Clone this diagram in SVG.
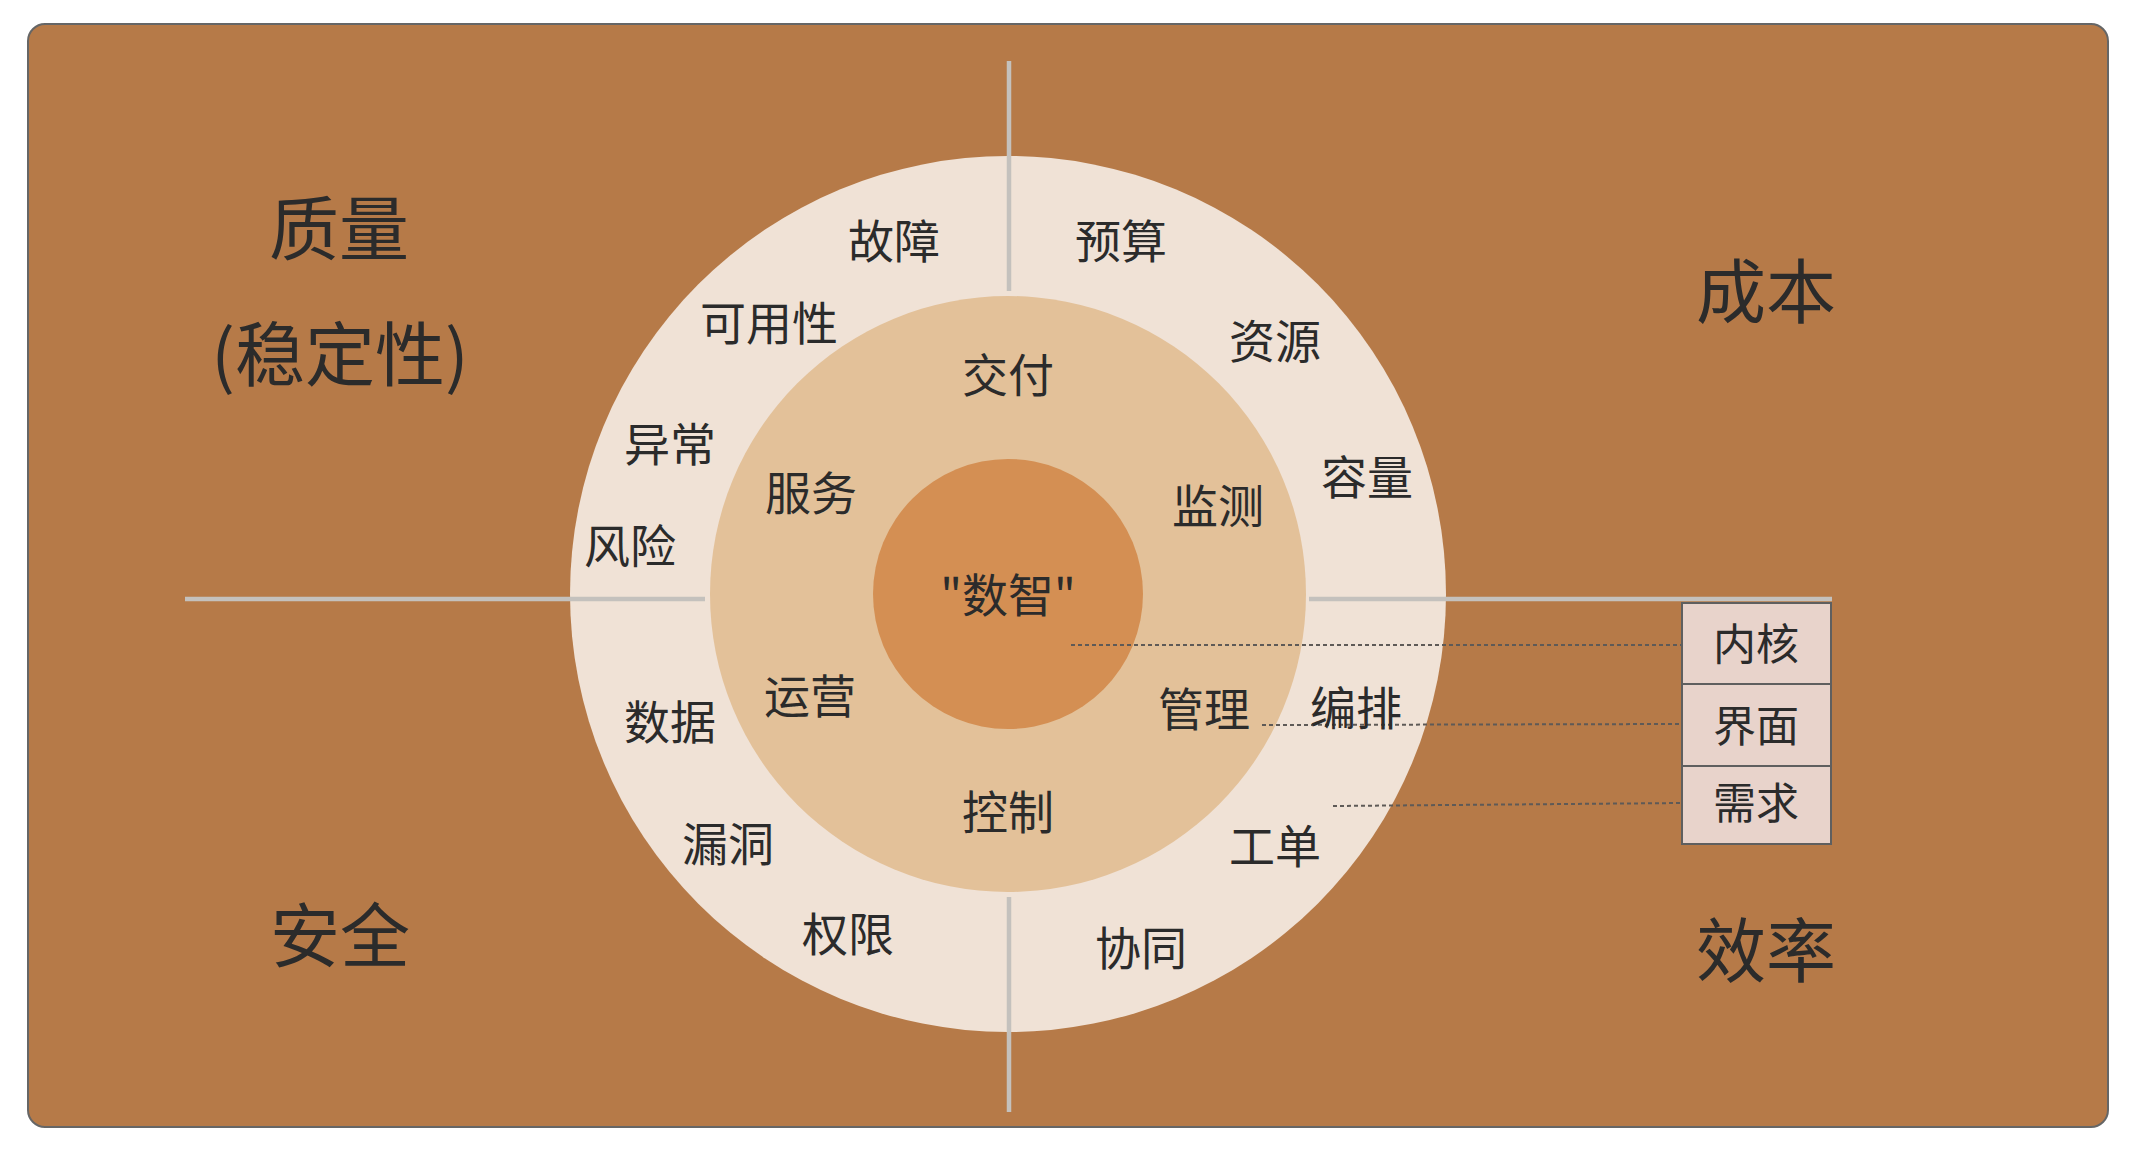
<svg xmlns="http://www.w3.org/2000/svg" width="2146" height="1156" viewBox="0 0 2146 1156">
<style>
.t{font-family:"Noto Sans CJK SC","Noto Sans",sans-serif;fill:#2b2b2b;text-anchor:middle}
.big{font-size:70px}
.lbl{font-size:46px}
.box{font-size:43px}
.axis{stroke:#c4c1bd;stroke-width:4.5;fill:none}
.dot{stroke:#5e5a57;stroke-width:2;stroke-dasharray:4 3;fill:none}
.cell{fill:#e8d3cb;stroke:#5f5f5f;stroke-width:2}
</style>
<rect x="28" y="24" width="2080" height="1103" rx="17" ry="17" fill="#b67a48" stroke="#666" stroke-width="2"/>
<g id="ring-outer"><circle cx="1008" cy="594" r="438" fill="#f0e2d6"/></g>
<g id="ring-middle"><circle cx="1008" cy="594" r="298" fill="#e3c199"/></g>
<g id="core"><circle cx="1008" cy="594" r="135" fill="#d48f53"/><text class="t lbl" x="1008" y="612">"数智"</text></g>
<g id="connectors">
<line class="axis" x1="1009" y1="61" x2="1009" y2="291"/>
<line class="axis" x1="1009" y1="897" x2="1009" y2="1112"/>
<line class="axis" x1="185" y1="599" x2="705" y2="599"/>
<line class="axis" x1="1309" y1="599" x2="1832" y2="599"/>
<line class="dot" x1="1071" y1="645" x2="1682" y2="645"/>
<line class="dot" x1="1262" y1="725" x2="1682" y2="724"/>
<line class="dot" x1="1333" y1="806" x2="1682" y2="803"/>
</g>
<g id="quadrant-quality"><text class="t big" x="339" y="255">质量</text><text class="t big" x="340" y="381">(稳定性)</text></g>
<g id="quadrant-cost"><text class="t big" x="1766" y="318">成本</text></g>
<g id="quadrant-security"><text class="t big" x="340" y="962">安全</text></g>
<g id="quadrant-efficiency"><text class="t big" x="1766" y="977">效率</text></g>
<g id="outer-labels">
<g id="n-guzhang"><text class="t lbl" x="894" y="258">故障</text></g>
<g id="n-yusuan"><text class="t lbl" x="1121" y="258">预算</text></g>
<g id="n-keyongxing"><text class="t lbl" x="769" y="340">可用性</text></g>
<g id="n-ziyuan"><text class="t lbl" x="1275" y="358">资源</text></g>
<g id="n-yichang"><text class="t lbl" x="670" y="461">异常</text></g>
<g id="n-rongliang"><text class="t lbl" x="1367" y="494">容量</text></g>
<g id="n-fengxian"><text class="t lbl" x="630" y="563">风险</text></g>
<g id="n-shuju"><text class="t lbl" x="670" y="739">数据</text></g>
<g id="n-bianpai"><text class="t lbl" x="1356" y="725">编排</text></g>
<g id="n-loudong"><text class="t lbl" x="728" y="861">漏洞</text></g>
<g id="n-gongdan"><text class="t lbl" x="1275" y="863">工单</text></g>
<g id="n-quanxian"><text class="t lbl" x="848" y="951">权限</text></g>
<g id="n-xietong"><text class="t lbl" x="1141" y="965">协同</text></g>
</g>
<g id="middle-labels">
<g id="n-jiaofu"><text class="t lbl" x="1008" y="392">交付</text></g>
<g id="n-fuwu"><text class="t lbl" x="811" y="510">服务</text></g>
<g id="n-jiance"><text class="t lbl" x="1218" y="523">监测</text></g>
<g id="n-yunying"><text class="t lbl" x="810" y="713">运营</text></g>
<g id="n-guanli"><text class="t lbl" x="1204" y="726">管理</text></g>
<g id="n-kongzhi"><text class="t lbl" x="1008" y="829">控制</text></g>
</g>
<g id="legend-box">
<g id="n-neihe"><rect class="cell" x="1682" y="603" width="149" height="81"/><text class="t box" x="1756" y="660">内核</text></g>
<g id="n-jiemian"><rect class="cell" x="1682" y="684" width="149" height="82"/><text class="t box" x="1756" y="742">界面</text></g>
<g id="n-xuqiu"><rect class="cell" x="1682" y="766" width="149" height="78"/><text class="t box" x="1756" y="819">需求</text></g>
</g>
</svg>
